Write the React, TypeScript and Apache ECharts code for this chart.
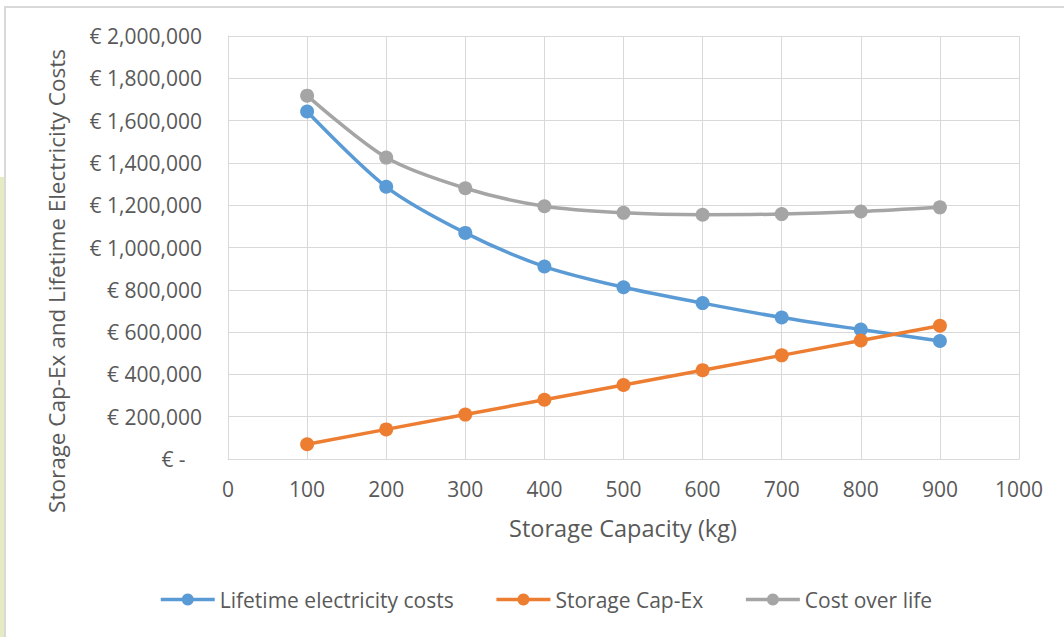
import React, { useEffect, useRef } from "react";
import * as echarts from "echarts";

const capacityKg = [100, 200, 300, 400, 500, 600, 700, 800, 900];
const lifetimeElectricity = [1643000, 1287000, 1069000, 910000, 812000, 737000, 669000, 612000, 558000];
const storageCapEx = [70000, 140000, 210000, 280000, 350000, 420000, 490000, 560000, 630000];
const costOverLife = [1718000, 1425000, 1280000, 1195000, 1164000, 1155000, 1158000, 1170000, 1190000];

const seriesNames = ["Lifetime electricity costs", "Storage Cap-Ex", "Cost over life"];
const seriesColors = ["#5B9BD5", "#ED7D31", "#A5A5A5"];
const xTitle = "Storage Capacity (kg)";
const yTitle = "Storage Cap-Ex and Lifetime Electricity Costs";

const FONT = "'Open Sans', Lato, sans-serif";
const TXT = "#595959";
const FS = 21;

export default function App() {
  const ref = useRef<HTMLDivElement>(null);
  useEffect(() => {
    if (!ref.current) return;
    const chart = echarts.init(ref.current, undefined, { renderer: "svg" });
    const mk = (vals: number[]) => capacityKg.map((c, i) => [c, vals[i]]);
    const allVals = [lifetimeElectricity, storageCapEx, costOverLife];
    chart.setOption({
      animation: false,
      backgroundColor: "#ffffff",
      textStyle: { fontFamily: FONT, color: TXT },
      grid: { left: 228, right: 45, top: 36, bottom: 178, containLabel: false },
      xAxis: {
        type: "value",
        min: 0,
        max: 1000,
        interval: 100,
        axisLine: { show: true, lineStyle: { color: "#d9d9d9", width: 1 } },
        axisTick: { show: false },
        axisLabel: {
          color: TXT,
          fontSize: FS,
          fontFamily: FONT,
          margin: 19,
          formatter: (v: number) => String(v),
        },
        splitLine: { show: true, lineStyle: { color: "#d9d9d9", width: 1 } },
      },
      yAxis: {
        type: "value",
        min: 0,
        max: 2000000,
        interval: 200000,
        axisLine: { show: true, lineStyle: { color: "#d9d9d9", width: 1 } },
        axisTick: { show: false },
        axisLabel: {
          color: TXT,
          fontSize: FS,
          fontFamily: FONT,
          margin: 26,
          formatter: (v: number) =>
            v === 0 ? "€ -\u00a0\u00a0\u00a0" : "€ " + v.toLocaleString("en-US"),
        },
        splitLine: { show: true, lineStyle: { color: "#d9d9d9", width: 1 } },
      },
      legend: {
        left: 154,
        top: 584,
        itemWidth: 54,
        itemHeight: 15,
        itemGap: 41,
        lineStyle: { width: 3.5 },
        textStyle: { color: TXT, fontSize: FS, fontFamily: FONT },
        data: seriesNames,
      },
      series: seriesNames.map((name, i) => ({
        name,
        type: "line",
        data: mk(allVals[i]),
        smooth: i === 1 ? false : 0.3,
        symbol: "circle",
        symbolSize: 14,
        color: seriesColors[i],
        lineStyle: { color: seriesColors[i], width: 3.5 },
        itemStyle: { color: seriesColors[i] },
        z: 2 + i,
      })),
      graphic: [
        { type: "rect", shape: { x: 0, y: 177, width: 4, height: 460 }, style: { fill: "#E6EBC4" }, silent: true },
        { type: "line", shape: { x1: 5, y1: 7, x2: 5, y2: 637 }, style: { stroke: "#d9d9d9", lineWidth: 2 }, silent: true },
        { type: "line", shape: { x1: 4, y1: 7, x2: 1064, y2: 7 }, style: { stroke: "#d9d9d9", lineWidth: 2 }, silent: true },
        {
          type: "text",
          x: 56,
          y: 281,
          rotation: Math.PI / 2,
          style: {
            text: yTitle,
            fill: TXT,
            font: `22.5px ${FONT}`,
            textAlign: "center",
            textVerticalAlign: "middle",
          },
          silent: true,
        },
        {
          type: "text",
          x: 623,
          y: 528,
          style: {
            text: xTitle,
            fill: TXT,
            font: `23.5px ${FONT}`,
            textAlign: "center",
            textVerticalAlign: "middle",
          },
          silent: true,
        },
      ],
    });
    return () => chart.dispose();
  }, []);
  return (
    <div
      ref={ref}
      style={{ position: "absolute", left: 0, top: 0, width: 1064, height: 637 }}
    />
  );
}
